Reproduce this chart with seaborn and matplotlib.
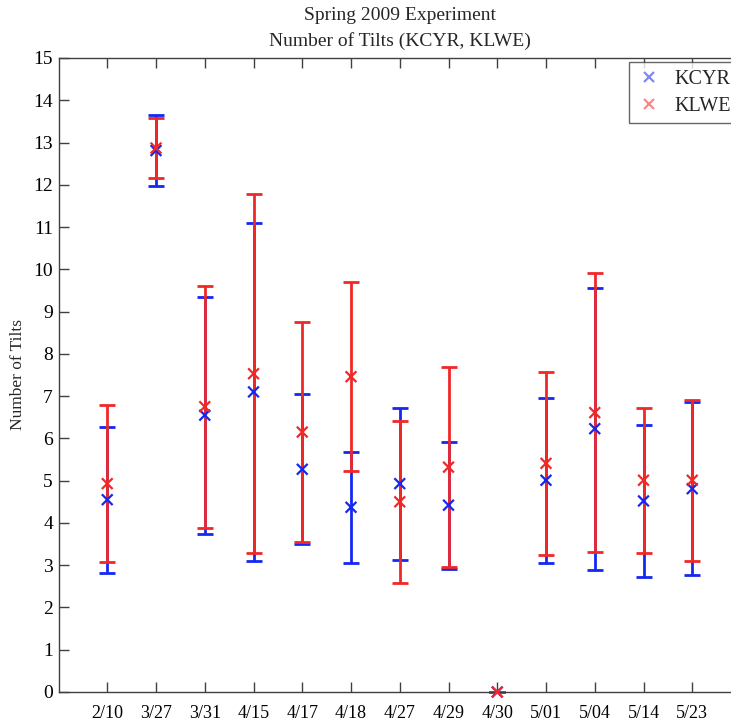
import numpy as np
import pandas as pd
import matplotlib
matplotlib.use("Agg")
import matplotlib.pyplot as plt
import seaborn as sns

# Test dates
dates = ["2/10", "3/27", "3/31", "4/15", "4/17", "4/18", "4/27",
         "4/29", "4/30", "5/01", "5/04", "5/14", "5/23"]

# Mean number of tilts and error half-widths per station
kcyr_mean = [4.55, 12.81, 6.55, 7.10, 5.27, 4.37, 4.93, 4.42, 0.0, 5.01, 6.23, 4.52, 4.81]
kcyr_err = [1.73, 0.84, 2.80, 3.99, 1.77, 1.32, 1.80, 1.50, 0.0, 1.95, 3.34, 1.80, 2.04]
klwe_mean = [4.93, 12.87, 6.75, 7.53, 6.15, 7.46, 4.50, 5.32, 0.0, 5.41, 6.61, 5.01, 5.01]
klwe_err = [1.85, 0.72, 2.86, 4.25, 2.61, 2.23, 1.91, 2.36, 0.0, 2.17, 3.30, 1.72, 1.90]

series_names = ["KCYR", "KLWE"]
colors = {"KCYR": "#1428f0", "KLWE": "#f02828"}

x_pos = np.arange(1, len(dates) + 1)
df = pd.DataFrame({
    "x": np.concatenate([x_pos, x_pos]),
    "date": dates * 2,
    "mean": kcyr_mean + klwe_mean,
    "err": kcyr_err + klwe_err,
    "station": ["KCYR"] * len(dates) + ["KLWE"] * len(dates),
})

sns.set_theme(style="ticks")
plt.rcParams["font.family"] = ["Liberation Serif", "DejaVu Serif"]
plt.rcParams["xtick.direction"] = "in"
plt.rcParams["ytick.direction"] = "in"

fig = plt.figure(figsize=(7.31, 7.21), dpi=100)
ax = fig.add_axes([58.5 / 731, 29 / 721, 682.5 / 731, 634 / 721])

# error bars, blue first so red sits on top
for name in series_names:
    sub = df[df["station"] == name]
    ax.errorbar(sub["x"], sub["mean"], yerr=sub["err"], fmt="none",
                ecolor=colors[name], elinewidth=2.0, capsize=5.5,
                capthick=2.0, zorder=2, clip_on=False)

sns.scatterplot(data=df, x="x", y="mean", hue="station", palette=colors,
                marker="x", s=60, linewidth=1.6, ax=ax, zorder=3,
                clip_on=False, legend=True)

ax.set_xlim(0, 14)
ax.set_ylim(0, 15)
ax.set_xticks(x_pos)
ax.set_xticklabels(dates)
ax.set_yticks(range(0, 16))
ax.tick_params(axis="both", length=7, width=1, color="#404040",
               labelsize=13, labelcolor="black")
ax.tick_params(axis="x", top=True, pad=9)
ax.tick_params(axis="y", labelsize=14, pad=4)
for sp in ax.spines.values():
    sp.set_color("#404040")
    sp.set_linewidth(1.0)

ax.set_xlabel("")
ax.set_ylabel("Number of Tilts", fontsize=12.5, labelpad=5)
ax.set_title("Spring 2009 Experiment\nNumber of Tilts (KCYR, KLWE)",
             fontsize=14, pad=9, linespacing=1.55)

leg = ax.legend(loc="upper left", bbox_to_anchor=(570.5 / 682.5, 0.993),
                frameon=True, fancybox=False, fontsize=14.5,
                handletextpad=0.6, borderpad=0.35, labelspacing=0.4,
                handlelength=1.3, borderaxespad=0.0)
leg.get_frame().set_edgecolor("#404040")
leg.get_frame().set_linewidth(1.0)
for h in leg.legend_handles:
    h.set_alpha(0.55)

fig.savefig("out.png", dpi=100)
